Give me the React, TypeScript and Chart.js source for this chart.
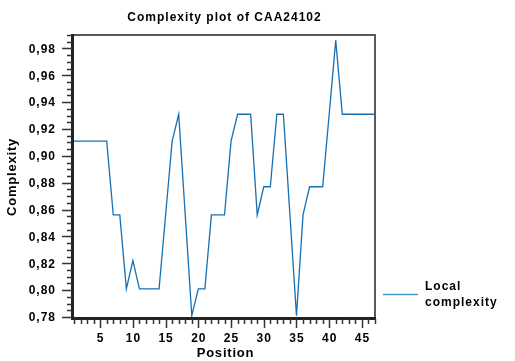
import React, { useEffect, useRef } from "react";
import { Chart, registerables } from "chart.js";

Chart.register(...registerables);

const positions = [
  1, 2, 3, 4, 5, 6, 7, 8, 9, 10, 11, 12, 13, 14, 15, 16, 17, 18, 19, 20, 21, 22, 23, 24,
  25, 26, 27, 28, 29, 30, 31, 32, 33, 34, 35, 36, 37, 38, 39, 40, 41, 42, 43, 44, 45, 46, 47,
];
const complexity = [
  0.911, 0.911, 0.911, 0.911, 0.911, 0.911, 0.856, 0.856, 0.801, 0.822, 0.801, 0.801, 0.801,
  0.801, 0.856, 0.911, 0.931, 0.856, 0.781, 0.801, 0.801, 0.856, 0.856, 0.856, 0.911, 0.931,
  0.931, 0.931, 0.856, 0.877, 0.877, 0.931, 0.931, 0.856, 0.781, 0.856, 0.877, 0.877, 0.877,
  0.931, 0.986, 0.931, 0.931, 0.931, 0.931, 0.931, 0.931,
];
const xMajorTicks = [5, 10, 15, 20, 25, 30, 35, 40, 45];
const yMajorTicks = [0.78, 0.8, 0.82, 0.84, 0.86, 0.88, 0.9, 0.92, 0.94, 0.96, 0.98];
const titleText = "Complexity plot of CAA24102";
const xTitle = "Position";
const yTitle = "Complexity";
const legendLines = ["Local", "complexity"];

const FONT = "'Liberation Sans', Arial, sans-serif";

const decorPlugin = {
  id: "decor",
  afterDraw(chart: any) {
    const ctx = chart.ctx as any;
    const { left, right, top, bottom } = chart.chartArea;
    const xs = chart.scales.x;
    const ys = chart.scales.y;
    ctx.save();
    // borders
    ctx.strokeStyle = "#5a5a5a";
    ctx.lineWidth = 2;
    ctx.beginPath();
    ctx.moveTo(left, top);
    ctx.lineTo(right, top);
    ctx.moveTo(right, top - 1);
    ctx.lineTo(right, bottom);
    ctx.stroke();
    ctx.strokeStyle = "#222";
    ctx.lineWidth = 3;
    ctx.beginPath();
    ctx.moveTo(left - 1.5, top - 1);
    ctx.lineTo(left - 1.5, bottom + 1.5);
    ctx.lineTo(right + 1, bottom + 1.5);
    ctx.stroke();

    // ticks
    ctx.strokeStyle = "#333";
    ctx.lineWidth = 1.5;
    ctx.beginPath();
    for (let v = 1; v <= 47; v++) {
      const px = Math.round(xs.getPixelForValue(v)) + 0.5;
      const major = v % 5 === 0;
      ctx.moveTo(px, bottom + 2);
      ctx.lineTo(px, bottom + (major ? 11 : 7));
    }
    for (let i = 0; i <= 42; i++) {
      const v = 0.78 + i * 0.005;
      if (v > 0.9901) break;
      const py = Math.round(ys.getPixelForValue(v)) + 0.5;
      const major = i % 4 === 0;
      ctx.moveTo(left - 2, py);
      ctx.lineTo(left - (major ? 12 : 7), py);
    }
    ctx.stroke();

    ctx.fillStyle = "#000";
    ctx.letterSpacing = "1px";
    ctx.font = `bold 12px ${FONT}`;
    ctx.textAlign = "center";
    ctx.textBaseline = "middle";
    xMajorTicks.forEach((v) => {
      ctx.fillText(String(v), xs.getPixelForValue(v) + 0.5, bottom + 22);
    });
    ctx.textAlign = "right";
    yMajorTicks.forEach((v) => {
      ctx.fillText(v.toFixed(2).replace(".", ","), left - 18, ys.getPixelForValue(v) + 1);
    });

    // titles
    ctx.textAlign = "center";
    ctx.font = `bold 12px ${FONT}`;
    ctx.fillText(titleText, (left + right) / 2, 18);
    ctx.letterSpacing = "0.8px";
    ctx.font = `bold 13px ${FONT}`;
    ctx.fillText(xTitle, (left + right) / 2 + 1, 353);
    ctx.save();
    ctx.translate(12, (top + bottom) / 2 + 1);
    ctx.rotate(-Math.PI / 2);
    ctx.fillText(yTitle, 0, 0);
    ctx.restore();

    // legend
    ctx.strokeStyle = "#4a98cf";
    ctx.lineWidth = 1.5;
    ctx.beginPath();
    ctx.moveTo(383, 294.5);
    ctx.lineTo(418, 294.5);
    ctx.stroke();
    ctx.textAlign = "left";
    ctx.letterSpacing = "1px";
    ctx.font = `bold 12px ${FONT}`;
    ctx.fillText(legendLines[0], 425, 287);
    ctx.fillText(legendLines[1], 425, 303);
    ctx.restore();
  },
};

export default function App() {
  const ref = useRef<HTMLCanvasElement>(null);
  useEffect(() => {
    document.body.style.margin = "0";
    const chart = new Chart(ref.current!, {
      type: "line",
      data: {
        datasets: [
          {
            label: "Local complexity",
            data: positions.map((p, i) => ({ x: p, y: complexity[i] })),
            borderColor: "#1570b5",
            borderWidth: 1.3,
            pointRadius: 0,
            tension: 0,
            fill: false,
          },
        ],
      },
      options: {
        animation: false,
        responsive: false,
        maintainAspectRatio: false,
        devicePixelRatio: 1,
        layout: { padding: { left: 74, right: 140, top: 35, bottom: 44 } },
        plugins: { legend: { display: false }, title: { display: false }, tooltip: { enabled: false } },
        scales: {
          x: { type: "linear", min: 1, max: 47, display: false },
          y: { type: "linear", min: 0.78, max: 0.99, display: false },
        },
      },
      plugins: [decorPlugin],
    });
    return () => chart.destroy();
  }, []);
  return <canvas ref={ref} width={515} height={361} style={{ display: "block" }} />;
}
